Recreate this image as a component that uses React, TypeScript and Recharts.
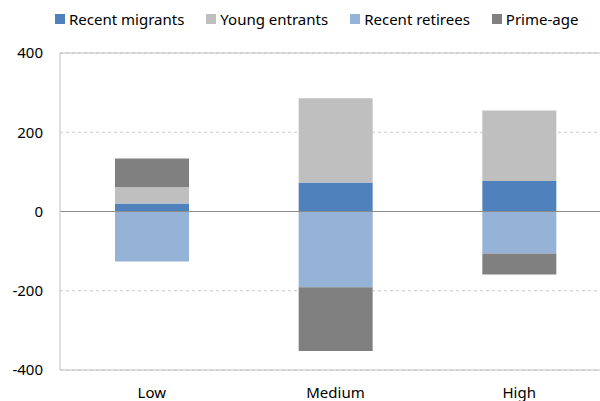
import React from "react";
import { BarChart, Bar, XAxis, YAxis, CartesianGrid, ReferenceLine } from "recharts";

const categories = ["Low", "Medium", "High"];
const recentMigrants = [20, 73, 77];
const youngEntrants = [41, 213, 178];
const recentRetirees = [-126, -191, -106];
const primeAge = [73, -161, -53];
const yTicks = [-400, -200, 0, 200, 400];

const seriesInfo = [
  { key: "migrants", name: "Recent migrants", color: "#4f81bd" },
  { key: "young", name: "Young entrants", color: "#bfbfbf" },
  { key: "retirees", name: "Recent retirees", color: "#95b3d7" },
  { key: "prime", name: "Prime-age", color: "#808080" },
];

const data = categories.map((c, i) => ({
  cat: c,
  migrants: recentMigrants[i],
  young: youngEntrants[i],
  retirees: recentRetirees[i],
  prime: primeAge[i],
}));

const font = "'Noto Sans', sans-serif";

export default function App() {
  return (
    <div style={{ position: "absolute", left: 0, top: 0, width: 600, height: 401, overflow: "hidden", background: "#fff" }}>
      <div
        style={{
          position: "absolute",
          left: 55,
          top: 8,
          display: "flex",
          gap: 22,
          fontFamily: font,
          fontSize: 15,
          lineHeight: "22px",
          color: "#000",
          whiteSpace: "nowrap",
        }}
      >
        {seriesInfo.map((s) => (
          <div key={s.key} style={{ display: "flex", alignItems: "center", gap: 4 }}>
            <span style={{ display: "inline-block", width: 10, height: 10, background: s.color }} />
            <span>{s.name}</span>
          </div>
        ))}
      </div>
      <BarChart
        width={611}
        height={401}
        data={data}
        stackOffset="sign"
        margin={{ top: 53, right: 0, left: 0, bottom: 0 }}
        style={{ fontFamily: font }}
      >
        <CartesianGrid vertical={false} stroke="#c8c8c8" strokeDasharray="3 3" />
        <XAxis
          dataKey="cat"
          height={31}
          tickLine={false}
          tickSize={0}
          tickMargin={17}
          axisLine={{ stroke: "#c0c0c0" }}
          tick={{ fill: "#000", fontSize: 15, fontFamily: font }}
        />
        <YAxis
          width={60}
          domain={[-400, 400]}
          ticks={yTicks}
          tickLine={false}
          tickSize={0}
          tickMargin={17}
          axisLine={{ stroke: "#c0c0c0" }}
          tick={{ fill: "#000", fontSize: 15, fontFamily: font }}
        />
        {seriesInfo.map((s) => (
          <Bar
            key={s.key}
            dataKey={s.key}
            name={s.name}
            stackId="a"
            fill={s.color}
            barSize={74}
            isAnimationActive={false}
          />
        ))}
        <ReferenceLine y={400} stroke="#c0c0c0" />
        <ReferenceLine y={0} stroke="#8c8c8c" />
      </BarChart>
    </div>
  );
}
